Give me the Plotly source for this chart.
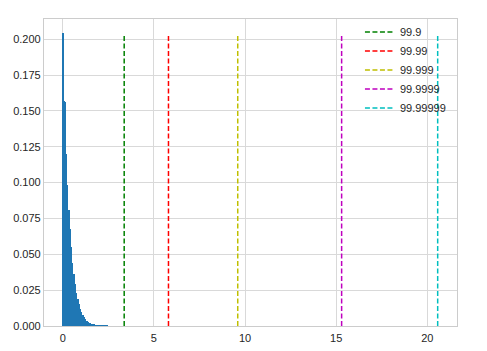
import plotly.graph_objects as go

# Histogram (probability per bin)
bin_edges = [0.0, 0.015, 0.085, 0.155, 0.225, 0.295, 0.365, 0.435, 0.505, 0.575,
             0.645, 0.715, 0.785, 0.855, 0.925, 0.995, 1.065, 1.135, 1.205, 1.275,
             1.345, 1.415, 1.485, 1.555, 1.625, 1.695, 1.765, 1.835, 1.905, 1.975,
             2.045, 2.115, 2.185, 2.255, 2.325, 2.395, 2.465]
bin_heights = [0.204, 0.157, 0.156, 0.120, 0.098, 0.081, 0.0675, 0.055, 0.044, 0.036,
               0.029, 0.023, 0.019, 0.015, 0.012, 0.0095, 0.0075, 0.006, 0.0047, 0.0037,
               0.0029, 0.0023, 0.0018, 0.0014, 0.0011, 0.0009, 0.0007, 0.00055, 0.00045,
               0.00035, 0.0003, 0.00025, 0.0002, 0.00015, 0.00012, 0.0001]

# Percentile lines
quantile_labels = ["99.9", "99.99", "99.999", "99.9999", "99.99999"]
quantile_values = [3.37, 5.8, 9.6, 15.3, 20.57]
quantile_colors = ["#008000", "#ff0000", "#bfbf00", "#bf00bf", "#00bfbf"]
line_top = 0.204

centers = [(bin_edges[i] + bin_edges[i + 1]) / 2 for i in range(len(bin_heights))]
widths = [bin_edges[i + 1] - bin_edges[i] for i in range(len(bin_heights))]

fig = go.Figure()
fig.add_trace(go.Bar(x=centers, y=bin_heights, width=widths,
                     marker=dict(color="#1f77b4", line=dict(width=0)),
                     showlegend=False, hoverinfo="skip"))

for lab, v, c in zip(quantile_labels, quantile_values, quantile_colors):
    fig.add_trace(go.Scatter(x=[v, v], y=[0, line_top], mode="lines", name=lab,
                             line=dict(color=c, width=1.5, dash="5px,2.5px")))

axis_common = dict(showgrid=True, gridcolor="#d9d9d9", gridwidth=1,
                   showline=True, linecolor="#cccccc", linewidth=1.25, mirror=True,
                   zeroline=False, ticks="", automargin=False,
                   tickfont=dict(color="#262626", size=11))

fig.update_layout(
    width=487, height=351,
    margin=dict(l=44, r=30, t=19, b=25),
    paper_bgcolor="white", plot_bgcolor="white",
    font=dict(family="Liberation Sans, Arial, sans-serif", size=11, color="#262626"),
    bargap=0,
    xaxis=dict(range=[-1.03, 21.63], tickvals=[0, 5, 10, 15, 20],
               ticklabelstandoff=2, **axis_common),
    yaxis=dict(range=[0, 0.2141], tickvals=[0, 0.025, 0.05, 0.075, 0.1, 0.125, 0.15, 0.175, 0.2],
               tickformat=".3f", **axis_common),
    legend=dict(x=0.765, y=1.005, xanchor="left", yanchor="top", bgcolor="rgba(0,0,0,0)",
                borderwidth=0, itemwidth=30, tracegroupgap=0,
                font=dict(size=11, color="#262626")),
)

fig.write_html("out.html")
